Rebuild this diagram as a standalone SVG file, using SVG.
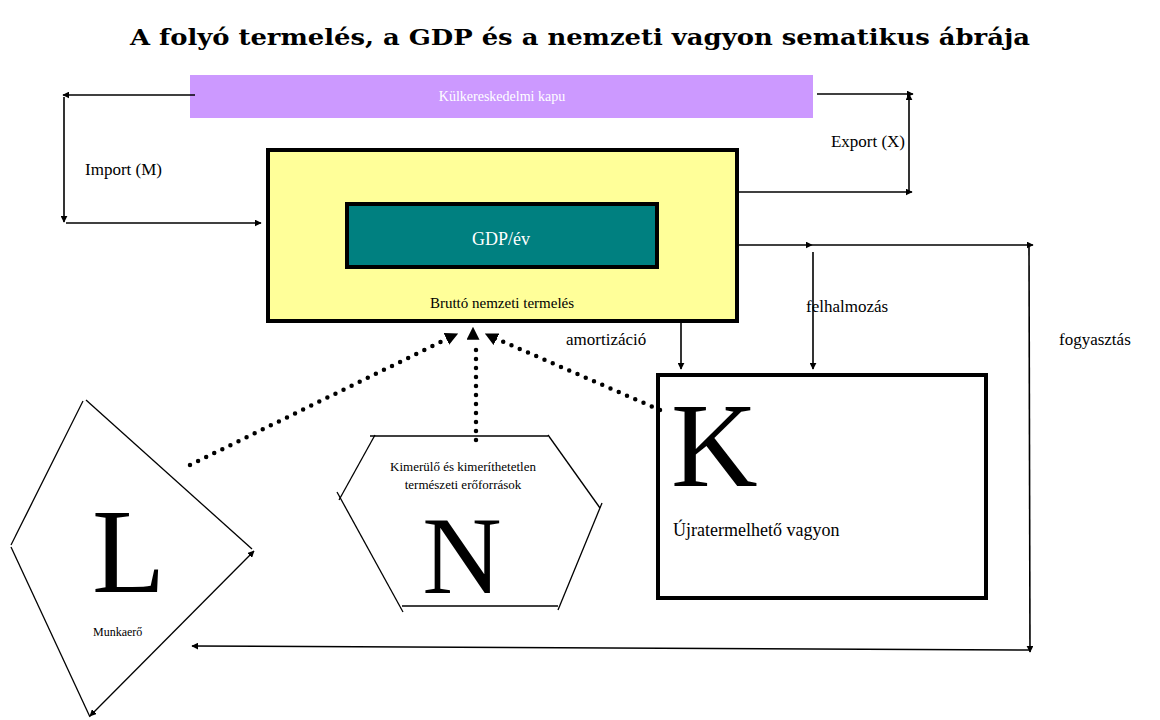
<svg xmlns="http://www.w3.org/2000/svg" width="1160" height="720" viewBox="0 0 1160 720">
<style>
.w{fill:#fff}
.ln{stroke:#000;stroke-width:1.6;fill:none}
.thin{stroke:#000;stroke-width:1.3;fill:none}
.dot{stroke:#000;stroke-width:4.5;stroke-linecap:round;stroke-dasharray:0 9;fill:none}
.box{stroke:#000;stroke-width:4}
</style>
<defs>
<marker id="ah" viewBox="0 0 10 10" refX="9" refY="5" markerWidth="7" markerHeight="7" markerUnits="userSpaceOnUse" orient="auto-start-reverse">
<path d="M0,0 L10,5 L0,10 z" fill="#000"/>
</marker>
<marker id="ahb" viewBox="0 0 10 10" refX="9" refY="5" markerWidth="13" markerHeight="13" markerUnits="userSpaceOnUse" orient="auto">
<path d="M0,0 L10,5 L0,10 z" fill="#000"/>
</marker>
</defs>
<rect width="1160" height="720" fill="#fff"/>
<text x="580" y="45" text-anchor="middle" font-family="'DejaVu Serif','Liberation Serif',serif" font-weight="bold" font-size="22" textLength="900" lengthAdjust="spacingAndGlyphs">A folyó termelés, a GDP és a nemzeti vagyon sematikus ábrája</text>

<g font-family="'Liberation Serif', 'Times New Roman', serif" fill="#000">
<g id="kapu">
<rect x="190" y="75" width="623" height="43" fill="#CC99FF"/>
<text x="502" y="101" text-anchor="middle" fill="#fff" font-size="14">Külkereskedelmi kapu</text>
</g>

<g id="brutto">
<rect x="268" y="150" width="469" height="171" fill="#FFFF99" class="box"/>
<text x="502" y="308" text-anchor="middle" font-size="15">Bruttó nemzeti termelés</text>
</g>
<g id="gdp">
<rect x="347" y="204" width="310" height="63" fill="#008080" class="box"/>
<text x="501" y="245" text-anchor="middle" fill="#fff" font-size="18">GDP/év</text>
</g>

<g id="K">
<rect x="658" y="375" width="328" height="223" fill="#fff" class="box"/>
<text x="671" y="486" font-size="120">K</text>
<text x="673" y="536" font-size="18">Újratermelhető vagyon</text>
</g>

<g id="L">
<line x1="83" y1="401" x2="11" y2="545" class="thin"/>
<line x1="86" y1="400" x2="252" y2="549" class="thin"/>
<line x1="11" y1="547" x2="90" y2="717" class="thin"/>
<text x="92" y="592" font-size="120">L</text>
<text x="93" y="636" font-size="12">Munkaerő</text>
</g>

<g id="N">
<line x1="370" y1="436" x2="548" y2="436" class="thin"/>
<line x1="375" y1="435" x2="339" y2="500" class="thin"/>
<line x1="337" y1="492" x2="403" y2="612" class="thin"/>
<line x1="402" y1="606" x2="558" y2="606" class="thin"/>
<line x1="602" y1="503" x2="558" y2="610" class="thin"/>
<line x1="548" y1="435" x2="600" y2="508" class="thin"/>
<text x="463" y="471" text-anchor="middle" font-size="13">Kimerülő és kimeríthetetlen</text>
<text x="463" y="489" text-anchor="middle" font-size="13">természeti erőforrások</text>
<text x="462" y="593" text-anchor="middle" font-size="110">N</text>
</g>

<g id="labels">
<text x="85" y="175" font-size="17">Import (M)</text>
<text x="905" y="147" text-anchor="end" font-size="17">Export (X)</text>
<text x="566" y="345" font-size="17">amortizáció</text>
<text x="806" y="312" font-size="17">felhalmozás</text>
<text x="1059" y="345" font-size="17">fogyasztás</text>
</g>
</g>

<g id="connectors">
<line x1="195" y1="95" x2="63" y2="95" class="ln" marker-end="url(#ah)"/>
<line x1="64" y1="97" x2="64" y2="222" class="ln" marker-end="url(#ah)"/>
<line x1="66" y1="223" x2="261" y2="223" class="ln" marker-end="url(#ah)"/>
<line x1="817" y1="94" x2="913" y2="94" class="ln" marker-end="url(#ah)"/>
<line x1="909" y1="192" x2="909" y2="94" class="ln" marker-end="url(#ah)"/>
<line x1="739" y1="192" x2="912" y2="192" class="ln" marker-end="url(#ah)"/>
<line x1="739" y1="245" x2="812" y2="245" class="ln" marker-end="url(#ah)"/>
<line x1="812" y1="245" x2="1033" y2="245" class="ln" marker-end="url(#ah)"/>
<line x1="813" y1="252" x2="813" y2="369" class="ln" marker-end="url(#ah)"/>
<line x1="681" y1="322" x2="681" y2="369" class="ln" marker-end="url(#ah)"/>
<line x1="1029" y1="247" x2="1030" y2="652" class="ln" marker-end="url(#ah)"/>
<line x1="1030" y1="650" x2="192" y2="646" class="ln" marker-end="url(#ah)"/>
<line x1="90" y1="716" x2="254" y2="551" class="thin" marker-start="url(#ah)" marker-end="url(#ah)"/>
<line x1="190" y1="465" x2="455" y2="335" class="dot"/>
<line x1="442" y1="341" x2="457" y2="334" stroke="none" marker-end="url(#ahb)"/>
<line x1="476" y1="440" x2="476" y2="341" class="dot"/>
<line x1="473" y1="342" x2="473" y2="328" stroke="none" marker-end="url(#ahb)"/>
<line x1="660" y1="410" x2="490" y2="336" class="dot"/>
<line x1="500" y1="341" x2="486" y2="334" stroke="none" marker-end="url(#ahb)"/>
</g>
</svg>
